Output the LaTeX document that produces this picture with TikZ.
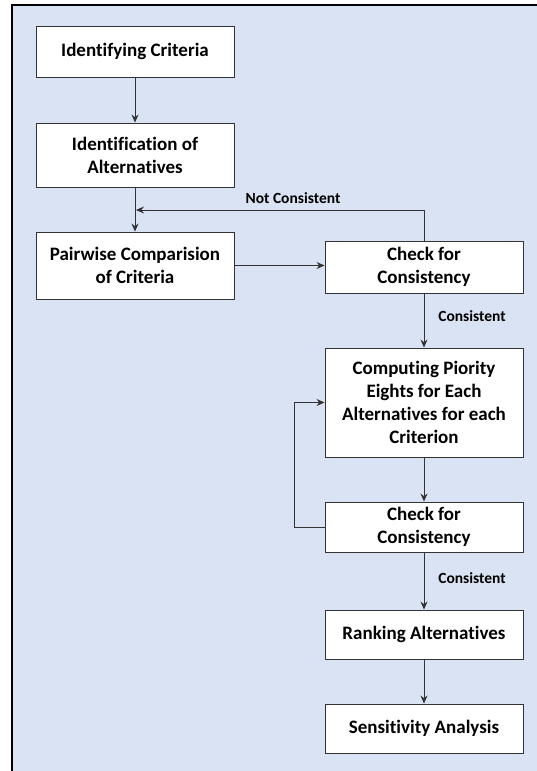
\documentclass[tikz,border=0pt]{standalone}
\usepackage{fontspec}
\setmainfont[Ligatures=NoCommon]{Carlito}
\usetikzlibrary{arrows.meta}
\definecolor{bgblue}{RGB}{218,227,243}
\begin{document}
\begin{tikzpicture}[x=1pt,y=-1pt,
  box/.style={draw=black!80, line width=0.9pt, fill=white, font=\fontsize{19}{23}\selectfont\bfseries, align=center, inner sep=0pt, minimum width=198pt},
  arr/.style={draw=black!80, line width=0.9pt, -{Stealth[length=8pt,width=7pt]}},
  lbl/.style={font=\fontsize{15.5}{18}\selectfont\bfseries}]
\useasboundingbox (0,0) rectangle (536,771);
\fill[bgblue] (12,4.5) rectangle (537,772);
\draw[line width=2pt] (12,772) -- (12,4.5) -- (537,4.5);
\node[box, minimum height=51pt] (b1) at (135,51.5) {Identifying Criteria};
\node[box, minimum height=64pt] (b2) at (135,155) {Identification of\\Alternatives};
\node[box, minimum height=67pt] (b3) at (135,265.5) {Pairwise Comparision\\of Criteria};
\node[box, minimum height=52pt] (c1) at (424,267) {Check for\\Consistency};
\node[box, minimum height=109pt] (cp) at (424,402.5) {Computing Piority\\Eights for Each\\Alternatives for each\\Criterion};
\node[box, minimum height=50pt] (c2) at (424,527) {Check for\\Consistency};
\node[box, minimum height=49pt] (rk) at (424,634.5) {Ranking Alternatives};
\node[box, minimum height=49pt] (sa) at (424,728.5) {Sensitivity Analysis};
\coordinate (m) at (136,210);
\draw[arr] (b1) -- (b2);
\draw[arr] (b2) -- (b3);
\draw[arr] (b3.east) -- (b3.east -| c1.west);
\draw[arr] (c1.north) |- (m);
\draw[arr] (c1) -- (cp);
\draw[arr] (cp) -- (c2);
\draw[arr] (c2) -- (rk);
\draw[arr] (rk) -- (sa);
\draw[arr] (c2.west) -- ++(-30,0) |- (cp.west);
\node[lbl] (nc) at (293,198) {Not Consistent};
\node[lbl] (k1) at (472,316) {Consistent};
\node[lbl] (k2) at (472,578) {Consistent};
\end{tikzpicture}
\end{document}
